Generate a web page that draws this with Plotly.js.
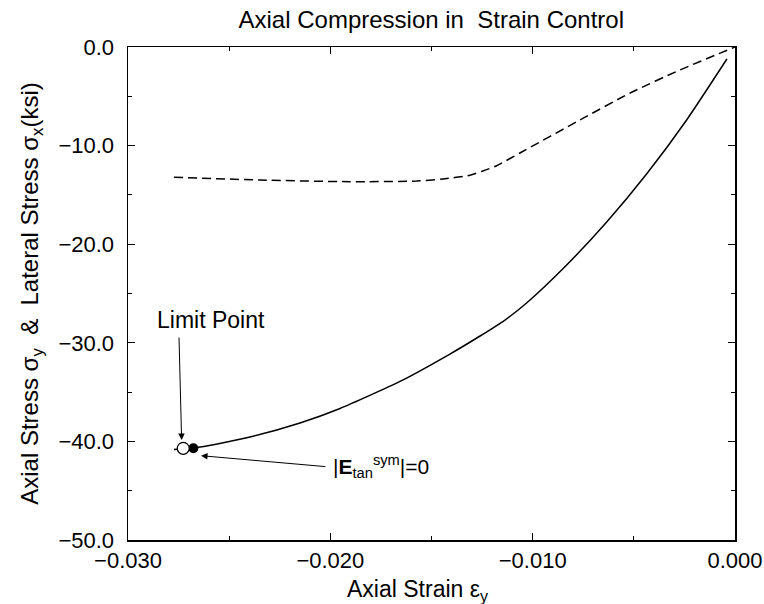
<!DOCTYPE html>
<html>
<head>
<meta charset="utf-8">
<script src="https://cdn.plot.ly/plotly-3.0.1.min.js"></script>
<style>html,body{margin:0;padding:0;background:#fff;}#chart{width:764px;height:604px;}</style>
</head>
<body>
<div id="chart"></div>
<script>
// Axial stress sigma_y vs axial strain (solid)
const axialStrain = [-0.02773, -0.02644, -0.02397, -0.0215, -0.01952, -0.01656, -0.01409, -0.0126, -0.01137, -0.0103, -0.00832, -0.00634, -0.00437, -0.00239, -0.0004];
const axialStress = [-40.83, -40.57, -39.55, -38.13, -36.66, -33.92, -31.14, -29.31, -27.69, -25.96, -22.11, -17.75, -12.88, -7.4, -1.22];
// Lateral stress sigma_x vs axial strain (dashed)
const lateralStrain = [-0.02773, -0.02348, -0.01903, -0.01573, -0.01443, -0.0131, -0.01246, -0.01178, -0.01063, -0.00766, -0.00519, -0.00272, 0.0];
const lateralStress = [-13.21, -13.49, -13.66, -13.59, -13.39, -13.0, -12.58, -12.04, -10.75, -7.4, -4.67, -2.33, 0.0];
// Special points
const limitPoint = {strain: [-0.02727], stress: [-40.7]};
const zeroDetPoint = {strain: [-0.02677], stress: [-40.7]};

const font = "Liberation Sans, Arial, Helvetica, sans-serif";
const big = 23;
const tick = 22;

const traces = [
  {x: lateralStrain, y: lateralStress, mode: 'lines', line: {color: '#000', width: 1.5, dash: '9px,5px', shape: 'spline', smoothing: 0.6}, hoverinfo: 'none'},
  {x: axialStrain, y: axialStress, mode: 'lines', line: {color: '#000', width: 1.5, shape: 'spline', smoothing: 0.6}, hoverinfo: 'none'},
  {x: zeroDetPoint.strain, y: zeroDetPoint.stress, mode: 'markers', marker: {symbol: 'circle', size: 10, color: '#000'}, hoverinfo: 'none'},
  {x: limitPoint.strain, y: limitPoint.stress, mode: 'markers', marker: {symbol: 'circle', size: 12, color: '#fff', line: {color: '#000', width: 1.2}}, hoverinfo: 'none'}
];

const layout = {
  width: 764, height: 604,
  margin: {l: 128, r: 29, t: 47, b: 64},
  paper_bgcolor: '#fff', plot_bgcolor: '#fff',
  showlegend: false,
  font: {family: font, size: tick, color: '#000'},
  title: {text: 'Axial Compression in\u00a0 Strain Control', x: 0.5645, xanchor: 'center', y: 0.967, yanchor: 'middle', font: {family: font, size: 24, color: '#000'}},
  xaxis: {
    range: [-0.03, 0.0], dtick: 0.01, tick0: 0, tickformat: '.3f',
    ticks: 'inside', ticklen: 7, tickwidth: 1, tickcolor: '#000',
    minor: {dtick: 0.005, ticks: 'inside', ticklen: 4, tickwidth: 1, tickcolor: '#000'},
    showline: true, linecolor: '#000', linewidth: 1.5, mirror: 'ticks',
    showgrid: false, zeroline: false,
    tickfont: {family: font, size: tick, color: '#000'}
  },
  yaxis: {
    range: [-50, 0], dtick: 10, tick0: 0, tickformat: '.1f',
    ticks: 'inside', ticklen: 7, tickwidth: 1, tickcolor: '#000',
    minor: {dtick: 5, ticks: 'inside', ticklen: 4, tickwidth: 1, tickcolor: '#000'},
    showline: true, linecolor: '#000', linewidth: 1.5, mirror: 'ticks',
    showgrid: false, zeroline: false,
    ticklabelstandoff: 8,
    tickfont: {family: font, size: tick, color: '#000'},
    title: {text: 'Axial Stress σ<sub>y</sub>\u00a0 &\u00a0 Lateral Stress σ<sub>x</sub>(ksi)', standoff: 13, font: {family: font, size: 24, color: '#000'}}
  },
  annotations: [
    {x: 0.478, y: -0.103, xref: 'paper', yref: 'paper', xanchor: 'center', yanchor: 'middle', text: 'Axial Strain ε<sub>y</sub>', showarrow: false, font: {family: font, size: 23, color: '#000'}},
    {x: -0.0259, y: -27.7, xref: 'x', yref: 'y', text: 'Limit Point', showarrow: false, font: {family: font, size: big, color: '#000'}},
    {x: -0.02735, y: -39.86, ax: -0.02748, ay: -29.31, xref: 'x', yref: 'y', axref: 'x', ayref: 'y', text: '', showarrow: true, arrowhead: 2, arrowsize: 1.3, arrowwidth: 1, arrowcolor: '#000'},
    {x: -0.01995, y: -42.5, xref: 'x', yref: 'y', xanchor: 'left', yanchor: 'middle', text: '|<b>E</b><sub>tan</sub><sup>sym</sup>|=0', showarrow: false, font: {family: font, size: 21, color: '#000'}},
    {x: -0.02639, y: -41.45, ax: -0.02017, ay: -42.57, xref: 'x', yref: 'y', axref: 'x', ayref: 'y', text: '', showarrow: true, arrowhead: 2, arrowsize: 1.3, arrowwidth: 1, arrowcolor: '#000'}
  ]
};

Plotly.newPlot('chart', traces, layout, {staticPlot: true, displayModeBar: false});
</script>
</body>
</html>
